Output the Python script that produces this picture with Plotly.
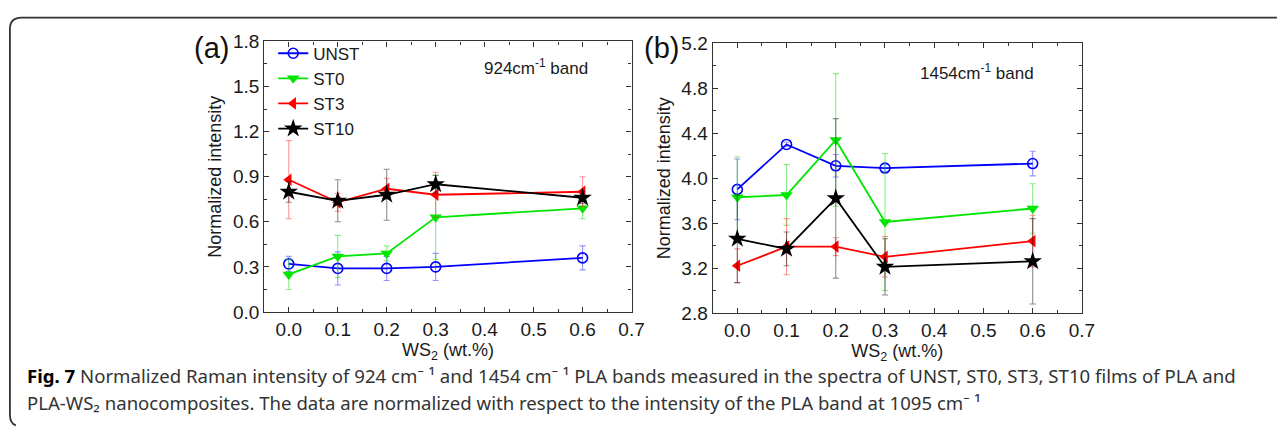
import plotly.graph_objects as go

# WS2 loading (wt.%)
ws2 = [0.0, 0.1, 0.2, 0.3, 0.6]
series = ["UNST", "ST0", "ST3", "ST10"]

# 924 cm-1 band, normalized intensity and error
a_unst = [0.32, 0.29, 0.29, 0.30, 0.36]
a_unst_err = [0.05, 0.11, 0.08, 0.09, 0.08]
a_st0 = [0.25, 0.37, 0.39, 0.63, 0.69]
a_st0_err = [0.10, 0.14, 0.05, 0.28, 0.07]
a_st3 = [0.88, 0.73, 0.82, 0.78, 0.80]
a_st3_err = [0.26, 0.06, 0.07, 0.15, 0.10]
a_st10 = [0.80, 0.74, 0.78, 0.85, 0.76]
a_st10_err = [0.07, 0.14, 0.17, 0.06, 0.04]

# 1454 cm-1 band, normalized intensity and error
b_unst = [3.90, 4.30, 4.11, 4.09, 4.13]
b_unst_err = [0.27, 0.02, 0.10, 0.03, 0.11]
b_st0 = [3.83, 3.85, 4.34, 3.61, 3.73]
b_st0_err = [0.36, 0.27, 0.59, 0.61, 0.22]
b_st3 = [3.22, 3.39, 3.39, 3.30, 3.44]
b_st3_err = [0.15, 0.25, 0.08, 0.18, 0.23]
b_st10 = [3.46, 3.37, 3.82, 3.21, 3.26]
b_st10_err = [0.39, 0.15, 0.71, 0.25, 0.38]

colors = ["#0000ff", "#00e600", "#ff0000", "#000000"]
err_colors = ["rgba(60,60,255,0.55)", "rgba(40,220,40,0.55)",
              "rgba(255,60,60,0.55)", "rgba(0,0,0,0.45)"]
symbols = ["circle-open", "triangle-down", "triangle-left", "star"]
sizes = [10, 11, 11, 14]

W, H = 1282, 444
def px(x): return x / W
def py(y): return 1 - y / H

fig = go.Figure()

panels = [
    ("x", "y", [a_unst, a_st0, a_st3, a_st10], [a_unst_err, a_st0_err, a_st3_err, a_st10_err], True),
    ("x2", "y2", [b_unst, b_st0, b_st3, b_st10], [b_unst_err, b_st0_err, b_st3_err, b_st10_err], False),
]
for xa, ya, vals, errs, show in panels:
    for i, name in enumerate(series):
        fig.add_trace(go.Scatter(
            x=ws2, y=vals[i], name=name, xaxis=xa, yaxis=ya,
            mode="lines+markers", showlegend=show,
            line=dict(color=colors[i], width=1.8),
            marker=dict(symbol=symbols[i], size=sizes[i], color=colors[i],
                        line=dict(color=colors[i], width=1.6 if i == 0 else 0)),
            error_y=dict(type="data", array=errs[i], color=err_colors[i],
                         thickness=1.1, width=3),
        ))

FONT = "Liberation Sans, Arial"
axis_common = dict(
    showline=True, linecolor="#333333", linewidth=1.3, mirror="ticks",
    ticks="inside", ticklen=5, tickwidth=1.2, tickcolor="#333333",
    showgrid=False, zeroline=False,
    tickfont=dict(family=FONT, size=19, color="#1a1a1a"),
)
minor_x = dict(ticks="inside", ticklen=3, tickwidth=1, tickcolor="#333333", dtick=0.05, tick0=0)

xt = dict(title=dict(text="WS<sub>2</sub> (wt.%)", standoff=3,
                     font=dict(family=FONT, size=18, color="#1a1a1a")),
          range=[-0.05, 0.7], tickvals=[0, 0.1, 0.2, 0.3, 0.4, 0.5, 0.6, 0.7],
          ticktext=["0.0", "0.1", "0.2", "0.3", "0.4", "0.5", "0.6", "0.7"],
          minor=minor_x, **axis_common)

yt_title = dict(text="Normalized intensity", standoff=6,
                font=dict(family=FONT, size=18, color="#1a1a1a"))

fig.update_layout(
    width=W, height=H,
    margin=dict(l=0, r=0, t=0, b=0),
    paper_bgcolor="white", plot_bgcolor="white",
    xaxis=dict(domain=[px(267), px(638)], anchor="y", **xt),
    yaxis=dict(domain=[py(317), py(33)], anchor="x", range=[0, 1.8], dtick=0.3,
               tickformat=".1f", title=yt_title,
               minor=dict(ticks="inside", ticklen=3, tickwidth=1, tickcolor="#333333", dtick=0.15),
               **axis_common),
    xaxis2=dict(domain=[px(720), px(1093)], anchor="y2", **xt),
    yaxis2=dict(domain=[py(318), py(35)], anchor="x2", range=[2.8, 5.2], dtick=0.4,
                tickformat=".1f", title=yt_title,
                minor=dict(ticks="inside", ticklen=3, tickwidth=1, tickcolor="#333333", dtick=0.2),
                **axis_common),
    legend=dict(x=px(276), y=py(27), xanchor="left", yanchor="top",
                bgcolor="rgba(0,0,0,0)", tracegroupgap=0, itemwidth=30,
                font=dict(family=FONT, size=17, color="#1a1a1a")),
)

def label(text, x, y, size, color="#1a1a1a"):
    fig.add_annotation(text=text, x=px(x), y=py(y), xref="paper", yref="paper",
                       xanchor="center", yanchor="middle", showarrow=False,
                       font=dict(family=FONT, size=size, color=color))

label("(a)", 214, 40, 29, "#111")
label("(b)", 668, 40, 29, "#111")
label("924cm<sup>-1</sup> band", 541, 60, 17)
label("1454cm<sup>-1</sup> band", 987, 65, 17)

# figure caption (unicode super/subscripts keep the line boxes compact)
cap_font = dict(family="Noto Sans", size=18.6, color="#333333")
fig.add_annotation(
    text="<b style='color:#000'>Fig. 7</b> Normalized Raman intensity of 924 cm\u207b \u00b9 and 1454 cm\u207b \u00b9 "
         "PLA bands measured in the spectra of UNST, ST0, ST3, ST10 films of PLA and",
    x=px(25), y=py(384), xref="paper", yref="paper", xanchor="left", yanchor="middle",
    showarrow=False, font=cap_font)
fig.add_annotation(
    text="PLA-WS\u2082 nanocomposites. The data are normalized with respect to the intensity of the PLA band at 1095 cm\u207b \u00b9",
    x=px(25), y=py(412), xref="paper", yref="paper", xanchor="left", yanchor="middle",
    showarrow=False, font=cap_font)

# outer frame around the figure and caption
fig.add_shape(type="path", xref="paper", yref="paper",
              path=f"M {px(1290)},{py(8)} L {px(22)},{py(8)} Q {px(10)},{py(8)} {px(10)},{py(20)} "
                   f"L {px(10)},{py(424)} Q {px(10)},{py(434)} {px(16)},{py(436)}",
              line=dict(color="#333333", width=1.8))

fig.write_html("out.html")
